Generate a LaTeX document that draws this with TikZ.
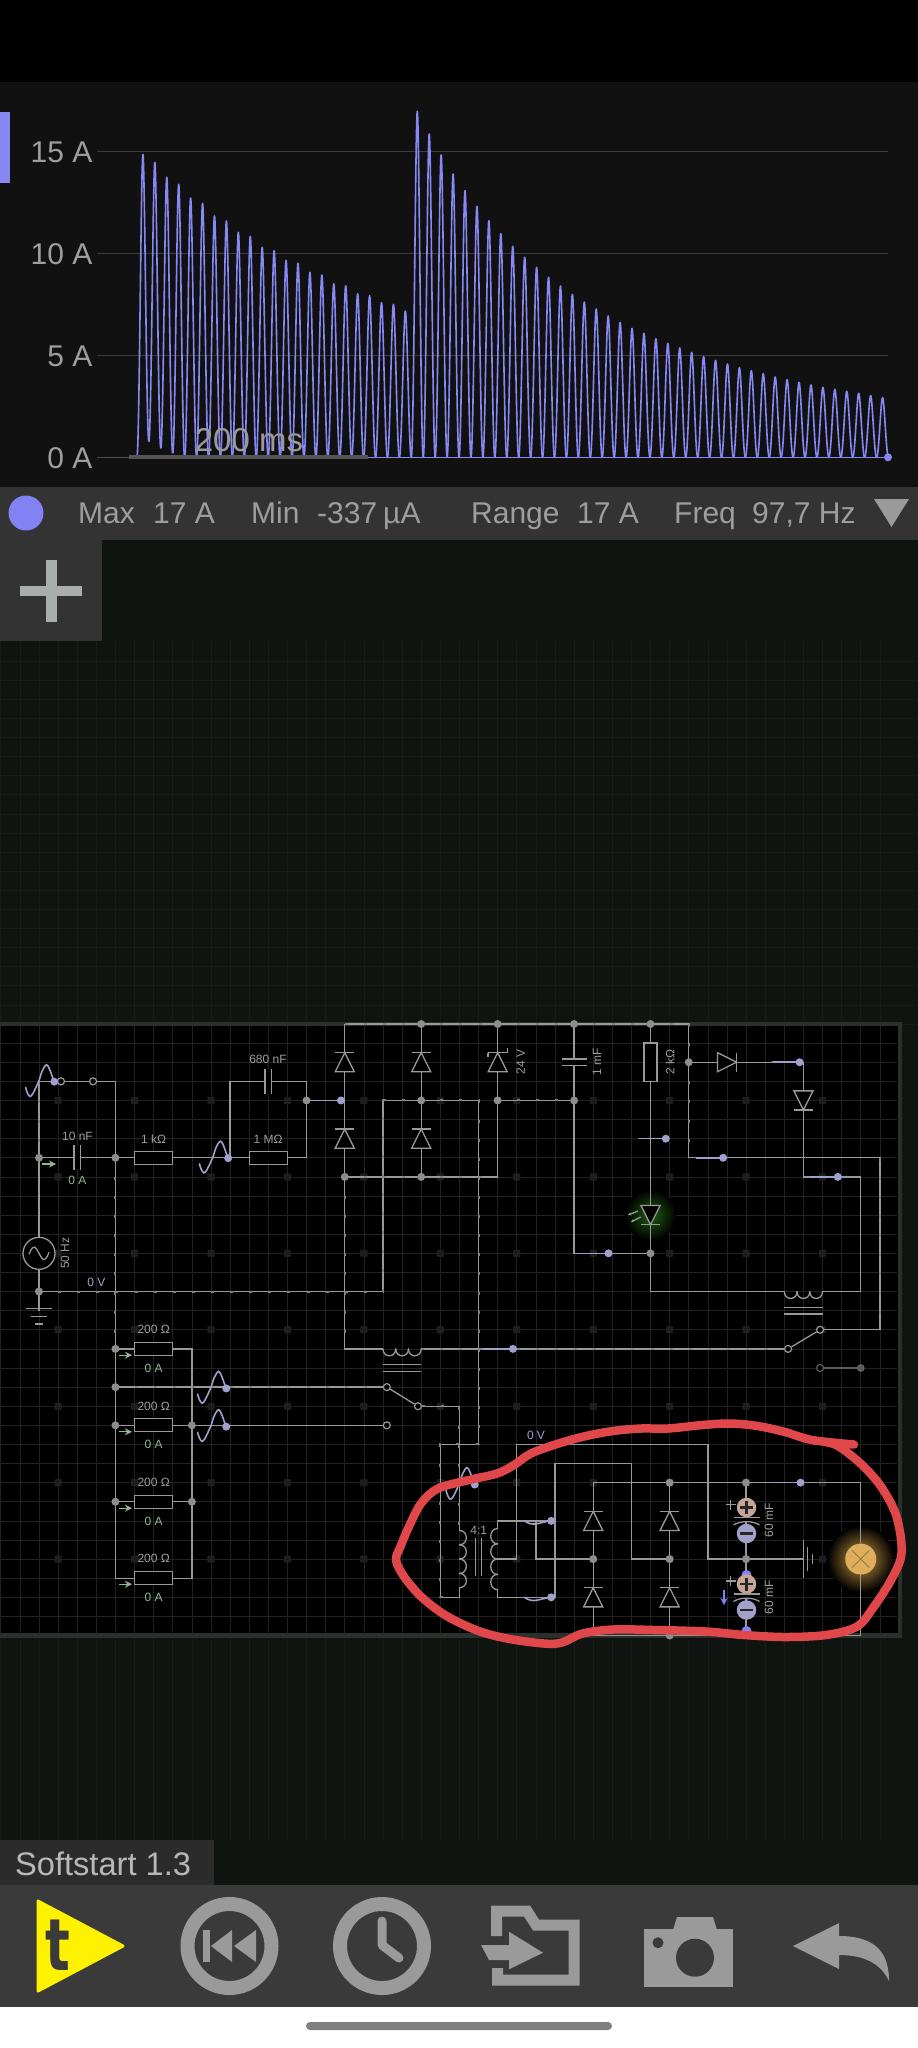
\documentclass[tikz,border=0pt]{standalone}
\usepackage{fontspec}
\usetikzlibrary{arrows.meta}
\setmainfont{Liberation Sans}
\newfontfamily\boldt{DejaVu Sans}
\newcommand{\fs}[1]{\fontsize{#1}{#1}\selectfont}
\definecolor{scopebg}{HTML}{111111}
\definecolor{barbg}{HTML}{333333}
\definecolor{appbg}{HTML}{0F1410}
\definecolor{framec}{HTML}{2A302C}
\definecolor{gridc}{HTML}{1F2221}
\definecolor{spotc}{HTML}{1C1F1D}
\definecolor{wirec}{HTML}{999999}
\definecolor{labelc}{HTML}{9E9E9E}
\definecolor{greenc}{HTML}{93B893}
\definecolor{tracec}{HTML}{8888F4}
\definecolor{probec}{HTML}{A0A0CC}
\definecolor{redc}{HTML}{E0474A}
\definecolor{iconc}{HTML}{9A9A9A}
\definecolor{toolc}{HTML}{3A3A3A}
\definecolor{capplus}{HTML}{C4A596}
\definecolor{capminus}{HTML}{A0A0C8}
\definecolor{bluec}{HTML}{8282F5}
\definecolor{plusc}{HTML}{A8AEAB}
\definecolor{lampc}{HTML}{DEAE5C}
\definecolor{lampglow}{HTML}{C4953F}
\definecolor{ledglow}{HTML}{1E5C12}
\tikzset{
  wire/.style={draw=wirec,line width=1.3pt,line join=miter},
  bead/.style={draw=wirec!85!black,line width=2pt,dash pattern=on 3pt off 16.11pt},
  junc/.style={circle,fill=wirec!92!black,minimum size=8pt,inner sep=0pt},
  opn/.style={circle,draw=wirec,line width=1.2pt,fill=black,minimum size=7pt,inner sep=0pt},
  resbox/.style={rectangle,draw=wirec,line width=1.3pt,fill=black,minimum width=38.2pt,minimum height=13pt,inner sep=0pt},
  resboxv/.style={resbox,minimum width=13pt,minimum height=38.2pt},
  lab/.style={text=labelc,inner sep=0pt,font=\fs{12}},
  ampl/.style={text=greenc,inner sep=0pt,font=\fs{12}},
  volt/.style={text=probec,inner sep=0pt,font=\fs{12}},
  axl/.style={text=labelc,inner sep=0pt,anchor=east,font=\fs{30}},
  stat/.style={text=labelc,inner sep=0pt,anchor=base west,font=\fs{30}},
  trace/.style={draw=tracec,line width=1.6pt,line join=round},
  pline/.style={draw=probec,line width=1.6pt,line cap=round},
  pdot/.style={circle,fill=probec,minimum size=8pt,inner sep=0pt},
  curarrow/.style={draw=greenc,line width=1.2pt,-{Stealth[length=7pt,width=7pt]}},
}
% diode: grid coords, rotation on the canvas
\newcommand{\dio}[3]{\begin{scope}[shift={(#1,#2)},rotate=#3]
  \draw[wire,fill=black] (0,-.5) -- (-.5,.5) -- (.5,.5) -- cycle;
  \draw[wire] (-.5,-.5) -- (.5,-.5);
\end{scope}}
% coil along local x with n bumps
\newcommand{\coil}[6]{\begin{scope}[shift={(#1,#2)},rotate=#3]
  \foreach \k in {1,...,#4}{
    \pgfmathsetmacro\ca{(\k-1)*#5}\pgfmathsetmacro\cb{\k*#5}
    \draw[wire,line cap=round] (\ca,0) .. controls (\ca,#6) and (\cb,#6) .. (\cb,0);}
\end{scope}}
% scope probe sine ending at a dot
\newcommand{\wave}[3]{\begin{scope}[shift={(#1,#2)},x=1pt,y=-1pt]
  \draw[pline] plot[smooth,tension=.6] coordinates {(-28.7,5.7)(-27,11)(-24.3,14.7)(-21.5,12)(-18,5)(-15.3,-1)(-12,-11)(-7.7,-17)(-4.5,-12)(-2,-5)(0,0)};
  \node[pdot] (#3) at (0,0) {};
\end{scope}}
\newcommand{\flatprobe}[4]{\draw[pline] (#1,#3) -- (#2,#3); \node[pdot] (#4) at (#2,#3) {};}
\newcommand{\wigprobe}[4]{\draw[pline] (#1,#3) .. controls (#1+.5,#3+.35) and (#2-.6,#3+.05) .. (#2,#3); \node[pdot] (#4) at (#2,#3) {};}
\begin{document}
\begin{tikzpicture}[x=1pt,y=-1pt]
\useasboundingbox (0,0) rectangle (918,2048);
% ---------- screen bands
\fill[appbg] (0,0) rectangle (918,2048);
\fill[black] (0,0) rectangle (918,82);
\fill[scopebg] (0,82) rectangle (918,487);
\fill[barbg] (0,487) rectangle (918,540);
% faint background grid
\foreach \k in {-2,...,44}{\draw[draw=appbg!96!white,line width=.6pt] (39+19.11*\k,641) -- (39+19.11*\k,1020);
  \draw[draw=appbg!96!white,line width=.6pt] (39+19.11*\k,1640) -- (39+19.11*\k,1840);}
\foreach \k in {0,...,19}{\draw[draw=appbg!96!white,line width=.6pt] (0,1024-19.11*\k) -- (918,1024-19.11*\k);}
\fill[barbg] (0,540) rectangle (102,641);
% ---------- scope
\fill[tracec] (0,112) rectangle (10,183);
\foreach \yy in {151.7,253.3,355}{\draw[draw=white!18!scopebg,line width=1pt] (97,\yy) -- (888,\yy);}
\draw[draw=white!25!scopebg,line width=1pt] (97,457.3) -- (130,457.3);
\node[axl] (a15) at (92.5,152) {15 A};
\node[axl] (a10) at (92.5,254) {10 A};
\node[axl] (a5) at (92.5,356) {5 A};
\node[axl] (a0) at (92.5,458) {0 A};
\def\trof{{0,15.7,9,4,0}}
\foreach \pk [count=\i from 0] in {253,277,322,343,384,400,438,453,487,499,532,542,571,580,607,615,641,647,671,677,698,703,723,124,192,255,312,362,409,452,491,529,562,592,622,648,673,696,717,738,757,775,790,806,820,834,847,860,871,882,893,902,911,921,929,937,945,952,958,964,970,977,983}{
  \pgfmathsetmacro\xp{142.9+\i*11.93}
  \pgfmathsetmacro\yp{70+\pk/3}
  \pgfmathsetmacro\lb{457.3-\trof[int(min(\i,4))]}
  \pgfmathsetmacro\rb{457.3-\trof[int(min(\i+1,4))]}
  \draw[trace] (\xp-5.97,\lb) .. controls (\xp-3.6,\lb) and (\xp-1.8,\yp) .. (\xp,\yp) .. controls (\xp+1.8,\yp) and (\xp+3.6,\rb) .. (\xp+5.97,\rb);
}
\draw[trace] (136.9,457.3) -- (888,457.3);
\node[circle,fill=tracec,minimum size=8pt,inner sep=0pt] (tend) at (888,457.3) {};
\fill[white!28!scopebg] (129,455.2) rectangle (368,459.4);
\node[text=iconc,inner sep=0pt,font=\fs{33}] (tbase) at (249,440) {200 ms};
% ---------- status bar
\fill[bluec] (26,513) circle (17.5);
\node[stat] (m1) at (78,523) {Max};
\node[stat] (m2) at (153,523) {17 A};
\node[stat] (m3) at (251,523) {Min};
\node[stat] (m4) at (317,523) {-337\hskip6pt µA};
\node[stat] (m5) at (471,523) {Range};
\node[stat] (m6) at (577,523) {17 A};
\node[stat] (m7) at (674,523) {Freq};
\node[stat] (m8) at (752,523) {97,7 Hz};
\fill[iconc] (874,499) -- (909,499) -- (891.5,527) -- cycle;
\fill[plusc] (20,585.5) rectangle (82,596);
\fill[plusc] (46,560) rectangle (56.5,622);
% ---------- circuit panel
\fill[framec] (0,1022) rectangle (902,1638);
\fill[black] (0,1026) rectangle (897.5,1632.7);
\begin{scope}[shift={(39,1024)},x=19.11pt,y=-19.11pt]
  % grid
  \foreach \k in {-2,...,44}{\draw[draw=gridc,line width=.7pt] (\k,.12) -- (\k,31.85);}
  \foreach \k in {1,...,31}{\draw[draw=gridc,line width=.7pt] (-2.04,\k) -- (44.9,\k);}
  \foreach \a in {1,5,...,41}{\foreach \b in {4,8,...,28}{
    \fill[spotc,rounded corners=1pt] (\a-.19,\b-.19) rectangle (\a+.19,\b+.19);}}
  % named grid points
  \foreach \a in {0,...,44}{\foreach \b in {0,...,32}{\coordinate (p\a-\b) at (\a,\b);}}
  % glows
  \shade[inner color=ledglow,outer color=black] (32,10) circle (1.35);
  \shade[inner color=lampglow,outer color=black] (43,28) circle (1.75);
  % components that wires stop at
  \node[opn] (s1a) at (1.15,3) {};
  \node[opn] (s1b) at (2.83,3) {};
  \node[opn] (s2a) at (18.2,19) {};
  \node[opn] (s2b) at (19.83,20) {};
  \node[opn] (s2c) at (18.2,21) {};
  \node[opn] (s3a) at (39.2,17) {};
  \node[opn] (s3b) at (40.87,16) {};
  \node[opn,draw=wirec!60!black] (s4) at (40.87,18) {};
  \node[resbox] (r1k) at (6,7) {};
  \node[resbox] (rM) at (12,7) {};
  \node[resbox] (ra) at (6,17) {};
  \node[resbox] (rb) at (6,21) {};
  \node[resbox] (rc) at (6,25) {};
  \node[resbox] (rd) at (6,29) {};
  \node[resboxv] (r2k) at (32,2) {};
  \node[circle,draw=wirec,line width=1.3pt,fill=black,minimum size=32pt,inner sep=0pt] (src) at (0,12) {};
  \node[circle,fill=lampc,draw=none,minimum size=31pt,inner sep=0pt] (lamp) at (43,28) {};
  \coordinate (c1) at (22,26.5); \coordinate (c2) at (22,29.5);
  \coordinate (c3) at (24,26.4); \coordinate (c4) at (24,29.6);
  \coordinate (g1) at (40,28);
  % wires
  \draw[wire] (p0-3) -- (s1a); \draw[wire] (s1a) -- (s1b);
  \draw[wire] (s1b) -- (p4-3) -- (p4-29) -- (rd);
  \draw[wire] (p0-3) -- (src); \draw[wire] (src) -- (p0-15);
  \draw[wire] (p0-7) -- (p4-7) -- (r1k); \draw[wire] (r1k) -- (rM);
  \draw[wire] (rM) -- (p14-7) -- (p14-3) -- (p10-3) -- (p10-7);
  \draw[wire] (p14-4) -- (p16-4);
  \draw[wire] (p16-0) -- (p34-0) -- (p34-7) -- (p44-7) -- (p44-16) -- (s3b);
  \draw[wire] (s3b) -- (s3a); \draw[wire] (s3a) -- (p20-17);
  \draw[wire] (p16-0) -- (p16-17) -- (p18-17);
  \draw[wire] (p20-0) -- (p20-8);
  \draw[wire] (p16-8) -- (p24-8) -- (p24-0);
  \draw[wire] (p0-14) -- (p18-14) -- (p18-4) -- (p23-4) -- (p23-22) -- (p21-22) -- (p21-30) -- (p22-30) -- (c2);
  \draw[wire] (p24-4) -- (p28-4);
  \draw[wire] (p28-0) -- (p28-12) -- (p32-12);
  \draw[wire] (p32-0) -- (r2k); \draw[wire] (r2k) -- (p32-14) -- (p39-14);
  \draw[wire] (p41-14) -- (p43-14) -- (p43-8) -- (p40-8) -- (p40-2) -- (p34-2);
  \draw[wire] (p4-17) -- (ra); \draw[wire] (ra) -- (p8-17) -- (p8-29) -- (rd);
  \draw[wire] (p4-19) -- (s2a); \draw[wire] (s2a) -- (s2b); \draw[wire] (s2b) -- (p22-20) -- (c1);
  \draw[wire] (p4-21) -- (rb); \draw[wire] (rb) -- (p8-21) -- (s2c);
  \draw[wire] (p4-25) -- (rc); \draw[wire] (rc) -- (p8-25);
  % secondary side and bridge
  \draw[wire] (c3) -- (p24-26) -- (p27-26);
  \draw[wire] (c4) -- (p24-30) -- (p27-30) -- (p27-23) -- (p31-23) -- (p31-28) -- (p33-28);
  \draw[wire] (p26-26) -- (p26-28) -- (p29-28);
  \draw[wire] (p24-28) -- (p25-28) -- (p25-22) -- (p35-22) -- (p35-28) -- (g1);
  \draw[wire] (p29-24) -- (p43-24) -- (lamp); \draw[wire] (lamp) -- (p43-32) -- (p29-32) -- (p29-24);
  \draw[wire] (p33-24) -- (p33-32);
  \draw[wire] (p37-24) -- (p37-32);
  \draw[wire,draw=wirec!60!black] (s4) -- (p43-18);
  % moving-current beads
  \draw[bead] (p0-3) -- (p0-7);
  \draw[bead] (p4-7) -- (p4-17);
  \draw[bead] (p0-14) -- (p18-14) -- (p18-4) -- (p23-4) -- (p23-22) -- (p21-22) -- (p21-30) -- (p22-30);
  \draw[bead] (p16-0) -- (p34-0) -- (p34-7);
  \draw[bead] (p44-7) -- (p44-16);
  \draw[bead] (p16-8) -- (p16-17);
  \draw[bead] (p16-8) -- (p24-8);
  \draw[bead] (p24-4) -- (p28-4);
  \draw[bead] (p20-17) -- (s3a);
  \draw[bead] (p4-19) -- (s2a);
  \draw[bead] (s2b) -- (p22-20) -- (c1);
  % junctions
  \foreach \a/\b in {0/7,0/14,4/7,4/17,4/19,4/21,4/25,8/21,8/25,14/4,16/8,20/0,20/4,20/8,24/0,24/4,28/0,28/4,32/0,32/12,34/2,29/28,33/24,33/28,33/32,37/24,37/28}
    {\node[junc] (j\a-\b) at (\a,\b) {};}
  \node[junc,fill=wirec!60!black] (j43-18) at (43,18) {};
  % diodes
  \dio{16}{2}{0}\dio{16}{6}{0}\dio{20}{2}{0}\dio{20}{6}{0}
  \dio{29}{26}{0}\dio{29}{30}{0}\dio{33}{26}{0}\dio{33}{30}{0}
  \dio{36}{2}{-90}\dio{40}{4}{180}\dio{32}{10}{180}\dio{24}{2}{0}
  \draw[wire] (23.5,1.72) -- (23.5,1.5) (24.5,1.5) -- (24.5,1.28);
  % capacitors
  \fill[black] (1.83,6.4) rectangle (2.17,7.6);
  \draw[wire] (1.83,6.35) -- (1.83,7.65) (2.17,6.35) -- (2.17,7.65);
  \fill[black] (11.83,2.35) rectangle (12.17,3.65);
  \draw[wire] (11.83,2.35) -- (11.83,3.65) (12.17,2.35) -- (12.17,3.65);
  \fill[black] (27.35,1.83) rectangle (28.65,2.17);
  \draw[wire] (27.35,1.83) -- (28.65,1.83) (27.35,2.17) -- (28.65,2.17);
  % relay coils and cores
  \coil{18}{17}{0}{3}{.6667}{.48}
  \draw[wire] (18,17.83) -- (20,17.83) (18,18.17) -- (20,18.17);
  \coil{39}{14}{0}{3}{.6667}{.48}
  \draw[wire] (39,14.83) -- (41,14.83) (39,15.17) -- (41,15.17);
  % transformer
  \coil{22}{26.5}{-90}{4}{.75}{-.48}
  \coil{24}{26.4}{-90}{4}{.8}{.48}
  \draw[wire] (22.83,26.9) -- (22.83,28.9) (23.17,26.9) -- (23.17,28.9);
  % source sine
  \begin{scope}[shift={(0,12)},x=1pt,y=-1pt]
    \draw[wire] (-10,1) .. controls (-5,-12) and (-3,-5) .. (0,0) .. controls (3,5) and (5,12) .. (10,-1);
  \end{scope}
  % LED arrows
  \begin{scope}[x=1pt,y=-1pt,shift={(-39,-1024)}]
    \draw[wire,-{Stealth[length=3pt,width=3pt]}] (638,1211) -- (628,1215);
    \draw[wire,-{Stealth[length=3pt,width=3pt]}] (640.7,1217) -- (631,1222);
  \end{scope}
  % ground symbols
  \draw[wire] (-.68,14.9) -- (.68,14.9) (-.42,15.32) -- (.42,15.32) (-.2,15.7) -- (.2,15.7);
  \draw[wire] (40,27) -- (40,29) (40.23,27.38) -- (40.23,28.62) (40.46,27.72) -- (40.46,28.28);
  % lamp cross
  \draw[draw=lampc!70!black,line width=.9pt] (42.55,27.55) -- (43.45,28.45) (42.55,28.45) -- (43.45,27.55);
  % flat and wave probes
  \wave{.8}{3.02}{w1}
  \wave{9.9}{7.02}{w2}
  \wave{9.8}{19.07}{w3}
  \wave{9.8}{21.07}{w4}
  \wave{22.8}{24.1}{w5}
  \flatprobe{14.3}{15.8}{4}{f1}
  \flatprobe{38.4}{39.8}{2}{f2}
  \flatprobe{31.4}{32.8}{6}{f3}
  \flatprobe{34.4}{35.8}{7}{f4}
  \flatprobe{40.4}{41.8}{8}{f5}
  \flatprobe{28.3}{29.8}{12}{f6}
  \flatprobe{23.3}{24.8}{17}{f7}
  \flatprobe{38.3}{39.85}{24}{f8}
  \wigprobe{25.4}{26.8}{26}{f9}
  \wigprobe{25.4}{26.8}{30}{f10}
\end{scope}
% polarised capacitors (screen px)
\fill[bluec] (746.5,1575) circle (5);
\fill[bluec] (746.5,1595) circle (5);
\fill[bluec] (746.5,1631) circle (5);
\foreach \cy/\n in {1507.5/a,1584/b}{
  \fill[black] (736,\cy+10.8) rectangle (757,\cy+14);
  \node[circle,fill=capplus,minimum size=19.5pt,inner sep=0pt] (cp\n) at (746.5,\cy) {};
  \node[circle,fill=capminus,minimum size=19.5pt,inner sep=0pt] (cm\n) at (746.5,\cy+26) {};
  \draw[draw=black!85,line width=2.6pt] (740,\cy) -- (753,\cy) (746.5,\cy-6.5) -- (746.5,\cy+6.5);
  \draw[draw=black!85,line width=2.6pt] (740,\cy+26) -- (753,\cy+26);
  \draw[wire] (733.5,\cy+10) -- (759.5,\cy+10);
  \draw[wire] (733.5,\cy+17.5) .. controls (740,\cy+13) and (753,\cy+13) .. (759.5,\cy+17.5);
  \draw[wire] (725.5,\cy-3) -- (735.5,\cy-3) (730.5,\cy-8) -- (730.5,\cy+2);
  \node[lab,rotate=90] (cl\n) at (769,\cy+13) {60 mF};
}
\draw[draw=bluec,line width=1.6pt,-{Stealth[length=7pt,width=7pt]}] (724,1590) -- (724,1605);
% circuit labels
\node[lab] (t1) at (77.5,1136) {10 nF};
\node[ampl] (t2) at (77.5,1180) {0 A};
\node[lab] (t3) at (153.5,1139) {1 kΩ};
\node[lab] (t4) at (268,1139) {1 MΩ};
\node[lab] (t5) at (268,1059) {680 nF};
\node[lab,rotate=90] (t6) at (65,1253) {50 Hz};
\node[volt] (t7) at (96.5,1282) {0 V};
\node[lab,rotate=90] (t8) at (520.7,1062) {24 V};
\node[lab,rotate=90] (t9) at (597,1062) {1 mF};
\node[lab,rotate=90] (t10) at (670,1062) {2 kΩ};
\node[lab] (t11) at (478.8,1530.7) {4:1};
\node[volt] (t12) at (536,1435) {0 V};
\foreach \yy/\n in {1348.7/a,1425.3/b,1501.7/c,1577.7/d}{
  \node[lab] (ro\n) at (153.7,\yy-19) {200 Ω};
  \node[ampl] (ra\n) at (153.7,\yy+19.5) {0 A};
  \draw[curarrow] (119,\yy+6.5) -- (132,\yy+6.5);
}
\draw[curarrow] (42,1164) -- (56,1164);
% red freehand ring
\draw[draw=redc,line width=8.5pt,line cap=round,line join=round] plot[smooth,tension=.55] coordinates {
(854,1444.5)(812,1440)(785,1432)(757.5,1426)(730,1423.5)(702.5,1425)(668,1428.5)(641,1428.5)(613,1431)(586,1436)(558.5,1443.5)(531,1453.5)(514,1465)(497,1473.5)(469,1480)(438,1488.5)(421,1503.5)(409,1526.5)(400.5,1546.5)(396,1560)(404,1576.5)(421,1596.5)(445,1615)(476,1630)(507,1638.5)(544,1643.5)(562,1642.5)(582.5,1633.5)(613,1629.5)(654.5,1630)(706,1631.5)(744,1635)(785,1637)(826,1635)(857,1626.5)(874,1606.5)(891,1580)(901.5,1553.5)(896.5,1516.5)(881,1486.5)(860.5,1463.5)(836,1445)(814,1440.5)};
% ---------- bottom bar
\fill[barbg!85!black] (0,1840) rectangle (214,1885);
\node[text=white!72!black,inner sep=0pt,anchor=base west,font=\fs{32.6}] (title) at (15,1875) {Softstart 1.3};
\fill[toolc] (0,1885) rectangle (918,2007);
\fill[white] (0,2007) rectangle (918,2048);
\fill[gray,rounded corners=4pt] (306,2022) rectangle (612,2030);
% play
\draw[draw=yellow,fill=yellow,line width=3pt,line join=round] (38,1901) -- (123,1946) -- (38,1991) -- cycle;
\node[text=toolc,inner sep=0pt,xscale=.72,font=\boldt\bfseries\fs{72}] (tt) at (58,1945) {t};
% rewind
\draw[draw=iconc,line width=14pt] (229.5,1946) circle (42);
\fill[iconc] (203,1930) rectangle (210,1962);
\fill[iconc] (211,1946) -- (232,1930) -- (232,1962) -- cycle;
\fill[iconc] (234,1946) -- (256,1930) -- (256,1962) -- cycle;
% clock
\draw[draw=iconc,line width=14pt] (382,1946) circle (42);
\draw[draw=iconc,line width=9pt,line cap=round,line join=round] (382,1921) -- (382,1945) -- (399,1958);
% folder
\draw[draw=iconc,line width=11pt,line join=miter] (496.5,1936) -- (496.5,1911) -- (527,1911) -- (536,1925) -- (574,1925) -- (574,1980) -- (497.5,1980) -- (497.5,1968);
\fill[iconc] (481,1945) -- (509,1945) -- (509,1931.7) -- (543,1952.7) -- (509,1969.3) -- (509,1960) -- (489,1960) -- cycle;
% camera
\fill[iconc] (644,1929) rectangle (733,1987);
\fill[iconc] (644,1930) -- (673,1930) -- (677,1917) -- (713,1917) -- (717,1930) -- (733,1930) -- cycle;
\fill[toolc] (695,1957.7) circle (19);
\fill[toolc] (658,1942.7) circle (5.5);
% back arrow
\fill[iconc] (793,1946) -- (839,1923) -- (839,1936) .. controls (878,1936) and (889,1955) .. (889,1981) .. controls (880,1962) and (862,1955) .. (839,1955) -- (839,1969) -- cycle;
\end{tikzpicture}
\end{document}
